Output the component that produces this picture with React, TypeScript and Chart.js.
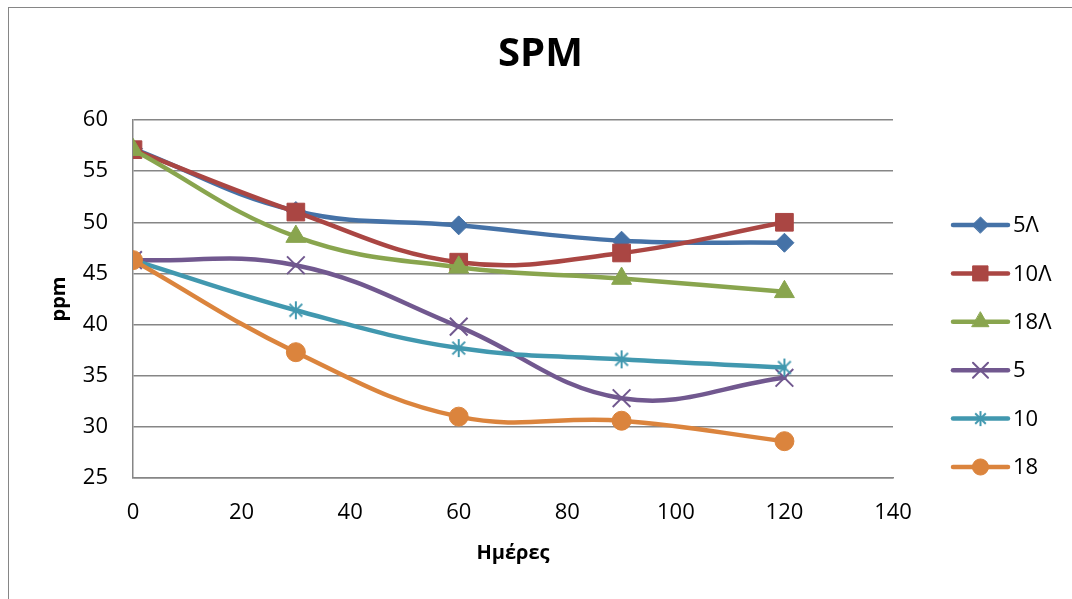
import React, { useEffect, useRef } from "react";
import { Chart, registerables } from "chart.js";
import { drawPoint } from "chart.js/helpers";

Chart.register(...registerables);

const days = [0, 30, 60, 90, 120];
const seriesNames = ["5Λ", "10Λ", "18Λ", "5", "10", "18"];
const s5L = [57.2, 51.1, 49.7, 48.2, 48.0];
const s10L = [57.1, 51.0, 46.1, 47.0, 50.0];
const s18L = [57.1, 48.6, 45.6, 44.5, 43.2];
const s5 = [46.3, 45.8, 39.8, 32.8, 34.8];
const s10 = [46.3, 41.4, 37.7, 36.6, 35.8];
const s18 = [46.3, 37.3, 31.0, 30.6, 28.6];
const allSeries = [s5L, s10L, s18L, s5, s10, s18];
const colors = ["#4572A7", "#AA4643", "#89A54E", "#71588F", "#4198AF", "#DB843D"];
const markers = ["rectRot", "rect", "triangle", "crossRot", "asterisk", "circle"];
const radii = [9.5, 12.5, 11.5, 12.5, 9.5, 9.5];

const xTicks = { min: 0, max: 140, step: 20 };
const yTicks = { min: 25, max: 60, step: 5 };

const FONT = "'Open Sans', 'Noto Sans', sans-serif";

function makeAsterisk(color: string, size: number) {
  const c = document.createElement("canvas");
  c.width = size;
  c.height = size;
  const ctx = c.getContext("2d")!;
  ctx.strokeStyle = color;
  ctx.lineWidth = 2;
  const m = size / 2;
  const r = size / 2 - 1;
  const d = r * Math.SQRT1_2;
  ctx.beginPath();
  ctx.moveTo(m - d, m - d);
  ctx.lineTo(m + d, m + d);
  ctx.moveTo(m + d, m - d);
  ctx.lineTo(m - d, m + d);
  ctx.moveTo(m, m - r);
  ctx.lineTo(m, m + r);
  ctx.stroke();
  return c;
}

export default function App() {
  const ref = useRef<HTMLCanvasElement>(null);
  useEffect(() => {
    const canvas = ref.current!;
    const styleFor = (i: number, scale: number) =>
      markers[i] === "asterisk" ? makeAsterisk(colors[i], Math.round(20 * scale)) : markers[i];

    const datasets = allSeries.map((vals, i) => ({
      label: seriesNames[i],
      data: days.map((d, k) => ({ x: d, y: vals[k] })),
      borderColor: colors[i],
      backgroundColor: colors[i],
      borderWidth: 4.5,
      borderCapStyle: "round" as const,
      borderJoinStyle: "round" as const,
      tension: 0.4,
      showLine: true,
      pointStyle: styleFor(i, 1) as any,
      pointRadius: radii[i],
      pointBorderWidth: markers[i] === "crossRot" ? 2 : 1,
      pointBorderColor: colors[i],
      pointBackgroundColor: colors[i],
      order: -i,
    }));

    const legendPlugin = {
      id: "excelLegend",
      afterDraw(chart: any) {
        const ctx = chart.ctx;
        const x0 = chart.chartArea.right + 60;
        ctx.save();
        datasets.forEach((ds, i) => {
          const y = 217 + i * 48.4;
          ctx.strokeStyle = colors[i];
          ctx.lineWidth = 4.5;
          ctx.lineCap = "round";
          ctx.beginPath();
          ctx.moveTo(x0, y);
          ctx.lineTo(x0 + 55, y);
          ctx.stroke();
          ctx.fillStyle = colors[i];
          ctx.strokeStyle = colors[i];
          ctx.lineWidth = markers[i] === "crossRot" ? 2 : 1;
          drawPoint(
            ctx,
            { pointStyle: styleFor(i, 0.85), radius: radii[i] * 0.85, rotation: 0, borderWidth: ctx.lineWidth } as any,
            x0 + 27.5,
            y
          );
          ctx.fillStyle = "#000";
          ctx.font = `22px ${FONT}`;
          ctx.textBaseline = "middle";
          ctx.textAlign = "left";
          ctx.fillText(ds.label, x0 + 60, y + 1);
        });
        ctx.restore();
      },
    };

    const chart = new Chart(canvas, {
      type: "scatter",
      data: { datasets },
      plugins: [legendPlugin],
      options: {
        animation: false,
        responsive: true,
        maintainAspectRatio: false,
        layout: { padding: 0 },
        plugins: {
          legend: { display: false },
          tooltip: { enabled: false },
          title: {
            display: true,
            text: "SPM",
            color: "#000",
            font: { family: FONT, size: 40, weight: "bold", lineHeight: 1.2 },
            padding: { top: 23, bottom: 41 },
          },
        },
        scales: {
          x: {
            type: "linear",
            min: xTicks.min,
            max: xTicks.max,
            ticks: {
              stepSize: xTicks.step,
              color: "#000",
              padding: 22,
              font: { family: FONT, size: 22, lineHeight: 1.2 },
            },
            grid: { display: false, drawTicks: false },
            border: { display: true, color: "#868686", width: 1.5 },
            title: {
              display: true,
              text: "Ημέρες",
              color: "#000",
              font: { family: FONT, size: 20, weight: "bold", lineHeight: 1.2 },
              padding: { top: 0, bottom: 34 },
            },
            afterFit: (s: any) => {
              s.height = 121;
            },
          },
          y: {
            type: "linear",
            min: yTicks.min,
            max: yTicks.max,
            ticks: {
              stepSize: yTicks.step,
              color: "#000",
              padding: 25,
              font: { family: FONT, size: 22, lineHeight: 1.2 },
            },
            grid: { color: "#868686", lineWidth: 1.5, drawTicks: false },
            border: { display: true, color: "#868686", width: 1.5 },
            title: {
              display: true,
              text: "ppm",
              color: "#000",
              font: { family: FONT, size: 20, weight: "bold", lineHeight: 1.2 },
              padding: { top: 38, bottom: 0 },
            },
            afterFit: (s: any) => {
              s.width = 124;
            },
          },
          legendSpace: {
            type: "linear",
            position: "right",
            min: yTicks.min,
            max: yTicks.max,
            ticks: { display: false },
            grid: { display: false, drawTicks: false },
            border: { display: false },
            afterFit: (s: any) => {
              s.width = 179;
            },
          },
        },
      },
    });
    return () => chart.destroy();
  }, []);

  return (
    <div
      style={{
        position: "fixed",
        left: 8,
        top: 7,
        width: 1064,
        height: 592,
        borderLeft: "1px solid #868686",
        borderTop: "1px solid #868686",
        background: "#fff",
      }}
    >
      <div style={{ position: "relative", width: 1063, height: 591 }}>
        <canvas ref={ref} />
      </div>
    </div>
  );
}
